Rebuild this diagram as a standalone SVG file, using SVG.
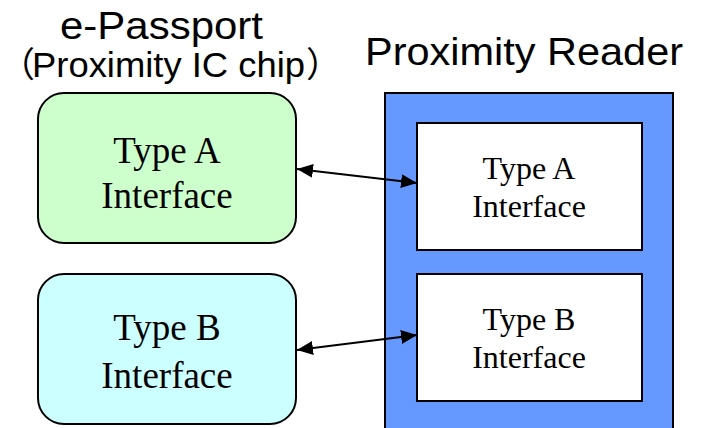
<svg xmlns="http://www.w3.org/2000/svg" width="702" height="428" viewBox="0 0 702 428">
<defs>
<style>
.title{font-family:"Liberation Sans",Arial,"Noto Sans CJK JP",sans-serif;fill:#000}
.lbl{font-family:"Liberation Serif","Times New Roman",serif;fill:#000;text-anchor:middle}
.edge{stroke:#000;stroke-width:2;fill:none}
.box{stroke:#000;stroke-width:2}
</style>
<marker id="ah" viewBox="0 0 16 14" refX="16" refY="7" markerWidth="16" markerHeight="14" markerUnits="userSpaceOnUse" orient="auto-start-reverse">
<path d="M0,0 L16,7 L0,14 Z" fill="#000"/>
</marker>
</defs>
<rect width="702" height="428" fill="#fff"/>
<g id="titles">
<text class="title" x="60" y="39" font-size="38" textLength="203" lengthAdjust="spacingAndGlyphs">e-Passport</text>
<text class="title" y="77" font-size="35"><tspan x="0">（</tspan><tspan x="32" textLength="273" lengthAdjust="spacingAndGlyphs">Proximity IC chip</tspan><tspan x="306">）</tspan></text>
<text class="title" x="365" y="65" font-size="39" textLength="318" lengthAdjust="spacingAndGlyphs">Proximity Reader</text>
</g>
<g id="chip-a">
<rect class="box" x="38" y="93" width="258" height="150" rx="26" fill="#CCFFCC"/>
<text class="lbl" x="167" y="163" font-size="37">Type A</text>
<text class="lbl" x="167" y="208" font-size="37">Interface</text>
</g>
<g id="chip-b">
<rect class="box" x="38" y="274" width="258" height="150" rx="26" fill="#CCFFFF"/>
<text class="lbl" x="167" y="340" font-size="37">Type B</text>
<text class="lbl" x="167" y="388" font-size="37">Interface</text>
</g>
<g id="reader">
<rect class="box" x="385" y="93" width="288" height="345" fill="#6699FF"/>
</g>
<g id="reader-a">
<rect class="box" x="417" y="123" width="225" height="127" fill="#fff"/>
<text class="lbl" x="529" y="179" font-size="32">Type A</text>
<text class="lbl" x="529" y="217" font-size="32">Interface</text>
</g>
<g id="reader-b">
<rect class="box" x="417" y="274" width="225" height="127" fill="#fff"/>
<text class="lbl" x="529" y="330" font-size="32">Type B</text>
<text class="lbl" x="529" y="368" font-size="32">Interface</text>
</g>
<g id="connectors">
<line class="edge" x1="297" y1="169" x2="417" y2="183" marker-start="url(#ah)" marker-end="url(#ah)"/>
<line class="edge" x1="297" y1="350" x2="417" y2="335" marker-start="url(#ah)" marker-end="url(#ah)"/>
</g>
</svg>
